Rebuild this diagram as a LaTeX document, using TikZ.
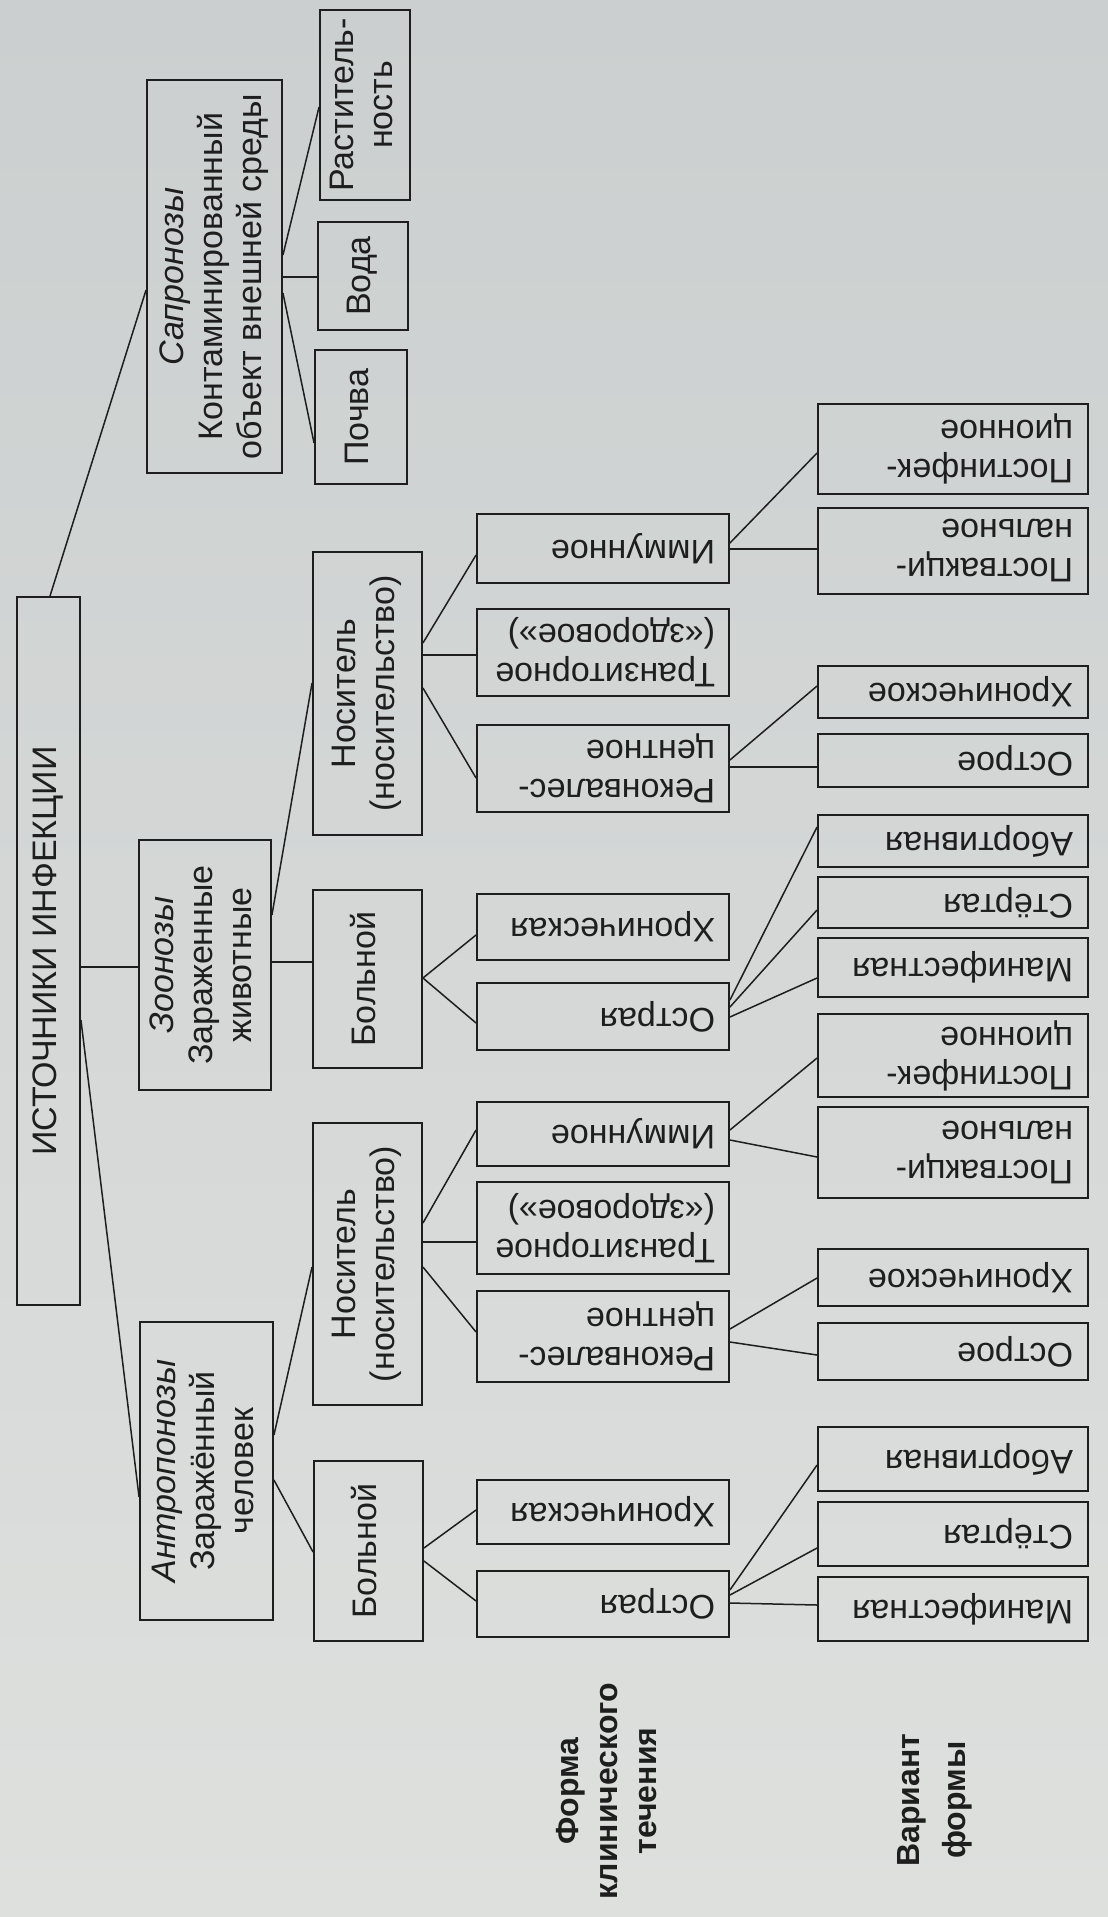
\documentclass[tikz,border=0pt]{standalone}
\usepackage{fontspec}
\setmainfont{Liberation Sans}
\usepackage{graphicx}
\definecolor{bgtop}{RGB}{203,207,207}
\definecolor{bgbot}{RGB}{222,224,222}
\definecolor{ink}{RGB}{30,30,30}
\tikzset{
 box/.style={draw=ink, line width=1.9pt, inner sep=0pt, font=\fontsize{34}{39}\selectfont, text=ink},
 link/.style={draw=ink, line width=1.5pt},
 lbl/.style={inner sep=0pt, font=\fontsize{32}{39}\selectfont\bfseries, text=ink}
}
\newcommand{\rotV}[1]{\rotatebox{90}{\begin{tabular}{@{}c@{}}#1\end{tabular}}}
\newcommand{\rotU}[2]{\rotatebox{180}{\parbox{#1}{\raggedright #2}}}
\begin{document}
\begin{tikzpicture}[x=1pt,y=-1pt]
\shade[top color=bgtop, bottom color=bgbot] (0,0) rectangle (1108,1917);
\useasboundingbox (0,0) rectangle (1108,1917);
% root
\node[box, minimum width=63pt, minimum height=708pt] (root) at (48.5,951) {\rotV{ИСТОЧНИКИ ИНФЕКЦИИ}};
% level 1
\node[box, minimum width=135pt, minimum height=393pt] (sap) at (214.5,276.5) {\rotV{\textit{Сапронозы}\\Контаминированный\\объект внешней среды}};
\node[box, minimum width=132pt, minimum height=250pt] (zoo) at (205,965) {\rotV{\textit{Зоонозы}\\Зараженные\\животные}};
\node[box, minimum width=133pt, minimum height=298pt] (ant) at (206.5,1471) {\rotV{\textit{Антропонозы}\\Заражённый\\человек}};
% level 2
\node[box, minimum width=90pt, minimum height=190pt] (ras) at (365,105) {\rotV{Раститель-\\ность}};
\node[box, minimum width=90pt, minimum height=108pt] (voda) at (363,276) {\rotV{Вода}};
\node[box, minimum width=92pt, minimum height=134pt] (poch) at (361,417) {\rotV{Почва}};
\node[box, minimum width=109pt, minimum height=283pt] (nos1) at (367.5,693.5) {\rotV{Носитель\\(носительство)}};
\node[box, minimum width=109pt, minimum height=178pt] (bol1) at (367.5,979) {\rotV{Больной}};
\node[box, minimum width=109pt, minimum height=282pt] (nos2) at (367.5,1264) {\rotV{Носитель\\(носительство)}};
\node[box, minimum width=109pt, minimum height=180pt] (bol2) at (368.5,1551) {\rotV{Больной}};
% level 3
\node[box, minimum width=252pt, minimum height=69pt] (imm1) at (603,548.5) {\rotU{224pt}{Иммунное}};
\node[box, minimum width=252pt, minimum height=87pt] (tr1) at (603,652.5) {\rotU{224pt}{Транзиторное\\(«здоровое»)}};
\node[box, minimum width=252pt, minimum height=87pt] (rek1) at (603,768.5) {\rotU{224pt}{Реконвалес-\\центное}};
\node[box, minimum width=252pt, minimum height=66pt] (hr1) at (603,927) {\rotU{224pt}{Хроническая}};
\node[box, minimum width=252pt, minimum height=67pt] (os1) at (603,1016.5) {\rotU{224pt}{Острая}};
\node[box, minimum width=252pt, minimum height=64pt] (imm2) at (603,1134) {\rotU{224pt}{Иммунное}};
\node[box, minimum width=252pt, minimum height=92pt] (tr2) at (603,1228) {\rotU{224pt}{Транзиторное\\(«здоровое»)}};
\node[box, minimum width=252pt, minimum height=91pt] (rek2) at (603,1336.5) {\rotU{224pt}{Реконвалес-\\центное}};
\node[box, minimum width=252pt, minimum height=64pt] (hr2) at (603,1512) {\rotU{224pt}{Хроническая}};
\node[box, minimum width=252pt, minimum height=66pt] (os2) at (603,1604) {\rotU{224pt}{Острая}};
% level 4
\node[box, minimum width=270pt, minimum height=90pt] (pi1) at (953,449) {\rotU{240pt}{Постинфек-\\ционное}};
\node[box, minimum width=270pt, minimum height=86pt] (pv1) at (953,551) {\rotU{240pt}{Поствакци-\\нальное}};
\node[box, minimum width=270pt, minimum height=52pt] (hre1) at (953,692) {\rotU{240pt}{Хроническое}};
\node[box, minimum width=270pt, minimum height=53pt] (ose1) at (953,760.5) {\rotU{240pt}{Острое}};
\node[box, minimum width=270pt, minimum height=52pt] (ab1) at (953,841) {\rotU{240pt}{Абортивная}};
\node[box, minimum width=270pt, minimum height=51pt] (st1) at (953,902.5) {\rotU{240pt}{Стёртая}};
\node[box, minimum width=270pt, minimum height=59pt] (mf1) at (953,967.5) {\rotU{240pt}{Манифестная}};
\node[box, minimum width=270pt, minimum height=83pt] (pi2) at (953,1055.5) {\rotU{240pt}{Постинфек-\\ционное}};
\node[box, minimum width=270pt, minimum height=91pt] (pv2) at (953,1152.5) {\rotU{240pt}{Поствакци-\\нальное}};
\node[box, minimum width=270pt, minimum height=57pt] (hre2) at (953,1277.5) {\rotU{240pt}{Хроническое}};
\node[box, minimum width=270pt, minimum height=57pt] (ose2) at (953,1351.5) {\rotU{240pt}{Острое}};
\node[box, minimum width=270pt, minimum height=64pt] (ab2) at (953,1459) {\rotU{240pt}{Абортивная}};
\node[box, minimum width=270pt, minimum height=64pt] (st2) at (953,1534) {\rotU{240pt}{Стёртая}};
\node[box, minimum width=270pt, minimum height=64pt] (mf2) at (953,1609) {\rotU{240pt}{Манифестная}};
% labels
\node[lbl] (lform) at (610,1791) {\rotV{Форма\\клинического\\течения}};
\node[lbl, font=\fontsize{32}{46}\selectfont\bfseries] (lvar) at (933,1800) {\rotV{Вариант\\формы}};
% connectors
\draw[link] (50,0 |- root.north) -- (sap.west |- 0,290);
\draw[link] (root.east |- 0,967) -- (zoo.west |- 0,967);
\draw[link] (root.east |- 0,1020) -- (ant.west |- 0,1497);
\draw[link] (sap.east |- 0,255) -- (ras.west |- 0,107);
\draw[link] (sap.east |- 0,277) -- (voda.west |- 0,277);
\draw[link] (sap.east |- 0,293) -- (poch.west |- 0,443);
\draw[link] (zoo.east |- 0,915) -- (nos1.west |- 0,683);
\draw[link] (zoo.east |- 0,962) -- (bol1.west |- 0,962);
\draw[link] (ant.east |- 0,1435) -- (nos2.west |- 0,1267);
\draw[link] (ant.east |- 0,1480) -- (bol2.west |- 0,1552);
\draw[link] (nos1.east |- 0,643) -- (imm1.west |- 0,555);
\draw[link] (nos1.east |- 0,655) -- (tr1.west |- 0,655);
\draw[link] (nos1.east |- 0,688) -- (rek1.west |- 0,778);
\draw[link] (bol1.east |- 0,978) -- (hr1.west |- 0,935);
\draw[link] (bol1.east |- 0,978) -- (os1.west |- 0,1023);
\draw[link] (nos2.east |- 0,1223) -- (imm2.west |- 0,1130);
\draw[link] (nos2.east |- 0,1242) -- (tr2.west |- 0,1242);
\draw[link] (nos2.east |- 0,1267) -- (rek2.west |- 0,1332);
\draw[link] (bol2.east |- 0,1548) -- (hr2.west |- 0,1510);
\draw[link] (bol2.east |- 0,1561) -- (os2.west |- 0,1601);
\draw[link] (imm1.east |- 0,543) -- (pi1.west |- 0,453);
\draw[link] (imm1.east |- 0,549) -- (pv1.west |- 0,549);
\draw[link] (rek1.east |- 0,760) -- (hre1.west |- 0,686);
\draw[link] (rek1.east |- 0,767) -- (ose1.west |- 0,767);
\draw[link] (os1.east |- 0,1000) -- (ab1.west |- 0,827);
\draw[link] (os1.east |- 0,1007) -- (st1.west |- 0,910);
\draw[link] (os1.east |- 0,1017) -- (mf1.west |- 0,978);
\draw[link] (imm2.east |- 0,1130) -- (pi2.west |- 0,1058);
\draw[link] (imm2.east |- 0,1140) -- (pv2.west |- 0,1157);
\draw[link] (rek2.east |- 0,1329) -- (hre2.west |- 0,1278);
\draw[link] (rek2.east |- 0,1342) -- (ose2.west |- 0,1355);
\draw[link] (os2.east |- 0,1590) -- (ab2.west |- 0,1465);
\draw[link] (os2.east |- 0,1595) -- (st2.west |- 0,1548);
\draw[link] (os2.east |- 0,1603) -- (mf2.west |- 0,1605);
\end{tikzpicture}
\end{document}
